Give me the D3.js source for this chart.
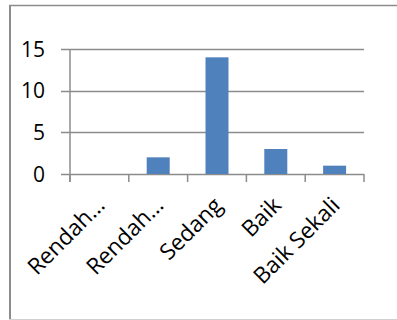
<!DOCTYPE html>
<html><head><meta charset="utf-8">
<script src="https://cdn.jsdelivr.net/npm/d3@7"></script>
<style>body{margin:0;background:#fff}svg{display:block}</style>
</head><body>
<script>
const categories = ["Rendah…", "Rendah…", "Sedang", "Baik", "Baik Sekali"];
const values = [0, 2, 14, 3, 1];
const yTicks = [0, 5, 10, 15];

(function () {
const W = 397, H = 320;
const svg = d3.select("body").append("svg").attr("width", W).attr("height", H);

// outer frame
svg.append("line").attr("x1", 9).attr("x2", 397).attr("y1", 5.5).attr("y2", 5.5).attr("stroke", "#8c8c8c").attr("stroke-width", 1.5);
svg.append("line").attr("x1", 10).attr("x2", 10).attr("y1", 5).attr("y2", 320).attr("stroke", "#8c8c8c").attr("stroke-width", 2);
svg.append("line").attr("x1", 9).attr("x2", 397).attr("y1", 319.5).attr("y2", 319.5).attr("stroke", "#d0d0d0").attr("stroke-width", 1);

const pl = 70, pr = 364, pt = 49, pb = 174;
const xb = d3.scaleBand().domain(d3.range(categories.length)).range([pl, pr]);
const y = d3.scaleLinear().domain([0, 15]).range([pb, pt]);

// gridlines
svg.append("g").selectAll("line").data(yTicks).join("line")
  .attr("x1", 61).attr("x2", pr).attr("y1", d => Math.round(y(d)) + 0.5).attr("y2", d => Math.round(y(d)) + 0.5)
  .attr("stroke", "#8c8c8c").attr("stroke-width", 1.5);

// y axis line
svg.append("line").attr("x1", pl).attr("x2", pl).attr("y1", pt).attr("y2", 182).attr("stroke", "#8c8c8c").attr("stroke-width", 1.5);

// y labels
svg.append("g").selectAll("text").data(yTicks).join("text")
  .attr("x", 45).attr("y", d => y(d)).attr("dy", "0.36em").attr("text-anchor", "end")
  .attr("font-family", "Open Sans, sans-serif").attr("font-size", 21).attr("fill", "#000")
  .text(d => d);

// category ticks
const tickPos = d3.range(categories.length + 1).map(i => pl + i * xb.bandwidth());
svg.append("g").selectAll("line").data(tickPos).join("line")
  .attr("x1", d => d).attr("x2", d => d).attr("y1", pb).attr("y2", 182)
  .attr("stroke", "#8c8c8c").attr("stroke-width", 1.5);

// bars
svg.append("g").selectAll("rect").data(values).join("rect")
  .attr("x", (d, i) => xb(i) + (xb.bandwidth() - 23) / 2).attr("width", 23)
  .attr("y", d => y(d)).attr("height", d => y(0) - y(d))
  .attr("fill", "#4f81bd");

// x labels
svg.append("g").selectAll("text").data(categories).join("text")
  .attr("transform", (d, i) => `translate(${xb(i) + xb.bandwidth() / 2 + 1},${201}) rotate(-45)`)
  .attr("text-anchor", "end").attr("dy", "0.36em")
  .attr("font-family", "Open Sans, sans-serif").attr("font-size", 22.5).attr("fill", "#000")
  .text(d => d);
})();
</script>
</body></html>
